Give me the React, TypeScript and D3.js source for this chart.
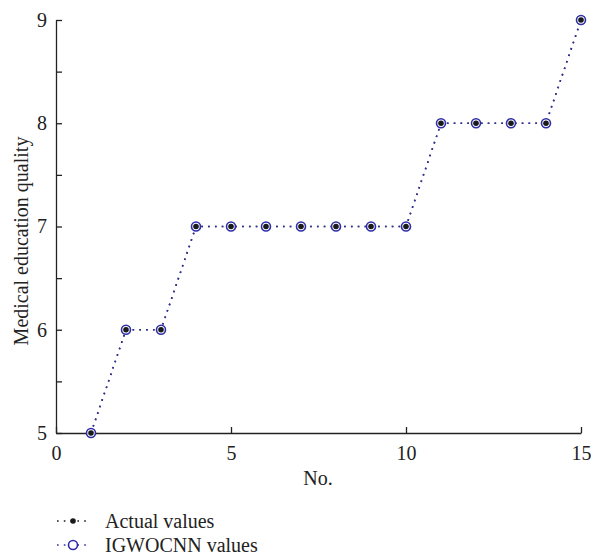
import React, { useEffect, useRef } from "react";
import * as d3 from "d3";

const xValues = [1, 2, 3, 4, 5, 6, 7, 8, 9, 10, 11, 12, 13, 14, 15];
const actualValues = [5, 6, 6, 7, 7, 7, 7, 7, 7, 7, 8, 8, 8, 8, 9];
const igwocnnValues = [5, 6, 6, 7, 7, 7, 7, 7, 7, 7, 8, 8, 8, 8, 9];
const xTicks = [0, 5, 10, 15];
const yTicks = [5, 5.5, 6, 6.5, 7, 7.5, 8, 8.5, 9];
const legendLabels = ["Actual values", "IGWOCNN values"];

const W = 591;
const H = 557;
const FONT = "'Liberation Serif', 'Times New Roman', serif";
const FS = 20;
const BLUE = "#2e2ea8";
const DARK = "#1a1a1a";

export default function App() {
  const ref = useRef<SVGSVGElement>(null);

  useEffect(() => {
    const svg = d3.select(ref.current);
    svg.selectAll("*").remove();

    const x = d3.scaleLinear().domain([0, 15]).range([56, 581]);
    const y = d3.scaleLinear().domain([5, 9]).range([433, 20]);

    // axes, ticks pointing inward
    const xAxis = svg
      .append("g")
      .attr("transform", `translate(0,${y(5)})`)
      .call(d3.axisBottom(x).tickValues(xTicks).tickSizeInner(-6).tickSizeOuter(0).tickPadding(11));
    const yAxis = svg
      .append("g")
      .attr("transform", `translate(${x(0)},0)`)
      .call(
        d3
          .axisLeft(y)
          .tickValues(yTicks)
          .tickSizeInner(-6)
          .tickSizeOuter(0)
          .tickPadding(9)
          .tickFormat((d) => (Number(d) % 1 === 0 ? String(d) : ""))
      );
    [xAxis, yAxis].forEach((g) => {
      g.selectAll("path, line").attr("stroke", "#222").attr("stroke-width", 1.3);
      g.selectAll("text").attr("font-family", FONT).attr("font-size", FS).attr("fill", "#222");
    });
    xAxis.selectAll("text").attr("dy", "0.8em");

    svg
      .append("text")
      .attr("x", 318)
      .attr("y", 485)
      .attr("text-anchor", "middle")
      .attr("font-family", FONT)
      .attr("font-size", FS)
      .attr("fill", "#222")
      .text("No.");

    svg
      .append("text")
      .attr("transform", `translate(28,241) rotate(-90)`)
      .attr("text-anchor", "middle")
      .attr("font-family", FONT)
      .attr("font-size", FS)
      .attr("fill", "#222")
      .text("Medical education quality");

    const line = d3
      .line<number>()
      .x((_, i) => x(xValues[i]))
      .y((d) => y(d));

    svg
      .append("path")
      .attr("d", line(actualValues))
      .attr("fill", "none")
      .attr("stroke", DARK)
      .attr("stroke-width", 1.6)
      .attr("stroke-dasharray", "1.6,5.2");
    svg
      .append("path")
      .attr("d", line(igwocnnValues))
      .attr("fill", "none")
      .attr("stroke", BLUE)
      .attr("stroke-width", 1.6)
      .attr("stroke-dasharray", "1.6,5.2");

    svg
      .append("g")
      .selectAll("circle")
      .data(igwocnnValues)
      .join("circle")
      .attr("cx", (_, i) => x(xValues[i]))
      .attr("cy", (d) => y(d))
      .attr("r", 4.5)
      .attr("fill", "white")
      .attr("stroke", BLUE)
      .attr("stroke-width", 1.6);
    svg
      .append("g")
      .selectAll("circle")
      .data(actualValues)
      .join("circle")
      .attr("cx", (_, i) => x(xValues[i]))
      .attr("cy", (d) => y(d))
      .attr("r", 2.8)
      .attr("fill", DARK);

    // legend
    const lg = svg.append("g");
    legendLabels.forEach((label, i) => {
      const ly = 521 + i * 24;
      const color = i === 0 ? DARK : BLUE;
      lg.append("line")
        .attr("x1", 57)
        .attr("x2", 91)
        .attr("y1", ly)
        .attr("y2", ly)
        .attr("stroke", color)
        .attr("stroke-width", 1.6)
        .attr("stroke-dasharray", "1.6,5.2");
      if (i === 0) {
        lg.append("circle").attr("cx", 73).attr("cy", ly).attr("r", 2.8).attr("fill", DARK);
      } else {
        lg.append("circle")
          .attr("cx", 73)
          .attr("cy", ly)
          .attr("r", 4.5)
          .attr("fill", "white")
          .attr("stroke", BLUE)
          .attr("stroke-width", 1.6);
      }
      lg.append("text")
        .attr("x", 105)
        .attr("y", ly)
        .attr("dy", "0.33em")
        .attr("font-family", FONT)
        .attr("font-size", FS)
        .attr("fill", "#222")
        .text(label);
    });
  }, []);

  return (
    <svg
      ref={ref}
      width={W}
      height={H}
      style={{ position: "absolute", left: 0, top: 0, background: "white" }}
    />
  );
}
